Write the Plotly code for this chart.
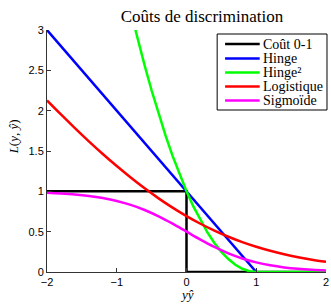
import plotly.graph_objects as go

# Data
x_grid = [-2.0, -1.8, -1.6, -1.4, -1.2, -1.0, -0.8, -0.6, -0.4, -0.2, 0.0,
          0.2, 0.4, 0.6, 0.8, 1.0, 1.2, 1.4, 1.6, 1.8, 2.0]
logistic = [2.127, 1.953, 1.784, 1.620, 1.463, 1.313, 1.171, 1.037, 0.913, 0.798, 0.693,
            0.598, 0.513, 0.437, 0.371, 0.313, 0.263, 0.220, 0.184, 0.153, 0.127]
sigmoid = [0.982, 0.973, 0.961, 0.943, 0.917, 0.881, 0.832, 0.769, 0.690, 0.599, 0.500,
           0.401, 0.310, 0.231, 0.168, 0.119, 0.083, 0.057, 0.039, 0.027, 0.018]

zero_one_x = [-2, 0, 0, 2]
zero_one_y = [1, 1, 0, 0]

hinge_x = [-2, 1]
hinge_y = [3, 0]

hinge2_x = [-0.732, -0.7, -0.6, -0.5, -0.4, -0.3, -0.2, -0.1, 0.0, 0.1, 0.2, 0.3,
            0.4, 0.5, 0.6, 0.7, 0.8, 0.9, 1.0, 2.0]
hinge2_y = [3.0, 2.89, 2.56, 2.25, 1.96, 1.69, 1.44, 1.21, 1.0, 0.81, 0.64, 0.49,
            0.36, 0.25, 0.16, 0.09, 0.04, 0.01, 0.0, 0.0]

x_ticks = [-2, -1, 0, 1, 2]
x_tick_labels = ["\u22122", "\u22121", "0", "1", "2"]
y_ticks = [0, 0.5, 1, 1.5, 2, 2.5, 3]
y_tick_labels = ["0", "0.5", "1", "1.5", "2", "2.5", "3"]

series_names = ["Coût 0-1", "Hinge", "Hinge\u00b2", "Logistique", "Sigmoïde"]
series_colors = ["black", "#0000ff", "#00ff00", "#ff0000", "#ff00ff"]

W = 2.5
fig = go.Figure()
fig.add_trace(go.Scatter(x=zero_one_x, y=zero_one_y, mode="lines", name=series_names[0],
                         line=dict(color=series_colors[0], width=W)))
fig.add_trace(go.Scatter(x=hinge_x, y=hinge_y, mode="lines", name=series_names[1],
                         line=dict(color=series_colors[1], width=W)))
fig.add_trace(go.Scatter(x=hinge2_x, y=hinge2_y, mode="lines", name=series_names[2],
                         line=dict(color=series_colors[2], width=W)))
fig.add_trace(go.Scatter(x=x_grid, y=logistic, mode="lines", name=series_names[3],
                         line=dict(color=series_colors[3], width=W, shape="spline")))
fig.add_trace(go.Scatter(x=x_grid, y=sigmoid, mode="lines", name=series_names[4],
                         line=dict(color=series_colors[4], width=W, shape="spline")))

serif = "Liberation Serif, DejaVu Serif, serif"
sans = "Liberation Sans, Arial, sans-serif"

L, T, PW, PH = 47, 30, 282, 242


def px_x(px):
    return (px - L) / PW


def px_y(py):
    return (T + PH - py) / PH


shapes = [dict(type="rect", xref="paper", yref="paper",
               x0=px_x(219), x1=px_x(330), y0=px_y(110), y1=px_y(34),
               line=dict(color="black", width=1), fillcolor="white", layer="above")]
annotations = []
entry_py = [44, 58.5, 72.5, 86.5, 100.5]
for name, color, py in zip(series_names, series_colors, entry_py):
    shapes.append(dict(type="line", xref="paper", yref="paper",
                       x0=px_x(227), x1=px_x(262), y0=px_y(py), y1=px_y(py),
                       line=dict(color=color, width=W), layer="above"))
    annotations.append(dict(text=name, xref="paper", yref="paper", x=px_x(263), y=px_y(py),
                            xanchor="left", yanchor="middle", showarrow=False,
                            font=dict(family=serif, size=14, color="black")))

annotations += [
    dict(text="<i>L</i>(<i>y</i>, <i>ŷ</i>)", xref="paper", yref="paper",
         x=px_x(13), y=px_y(137), xanchor="center", yanchor="middle",
         textangle=-90, showarrow=False,
         font=dict(family=serif, size=13, color="black")),
    dict(text="<i>y\u0177</i>", xref="paper", yref="paper",
         x=px_x(188), y=px_y(294), xanchor="center", yanchor="middle", showarrow=False,
         font=dict(family=serif, size=13, color="black")),
]

fig.update_layout(
    width=331, height=304,
    margin=dict(l=L, r=331 - L - PW, t=T, b=304 - T - PH),
    plot_bgcolor="white", paper_bgcolor="white",
    showlegend=False,
    title=dict(text="Coûts de discrimination", font=dict(family=serif, size=17, color="black"),
               x=202 / 331, xanchor="center", xref="container",
               y=1 - 16 / 304, yanchor="middle", yref="container"),
    xaxis=dict(range=[-2, 2], tickvals=x_ticks, ticktext=x_tick_labels,
               ticks="inside", ticklen=4, tickcolor="#333", showgrid=False, zeroline=False,
               showline=True, linecolor="#333", linewidth=1, ticklabeloverflow="allow",
               tickfont=dict(family=sans, size=11, color="black")),
    yaxis=dict(range=[0, 3], tickvals=y_ticks, ticktext=y_tick_labels,
               ticks="inside", ticklen=4, tickcolor="#333", showgrid=False, zeroline=False,
               showline=True, linecolor="#333", linewidth=1, ticklabeloverflow="allow",
               tickfont=dict(family=sans, size=11, color="black")),
    shapes=shapes,
    annotations=annotations,
)

fig.write_html("out.html", config={"displayModeBar": False},
               post_script="document.body.style.margin='0';")
